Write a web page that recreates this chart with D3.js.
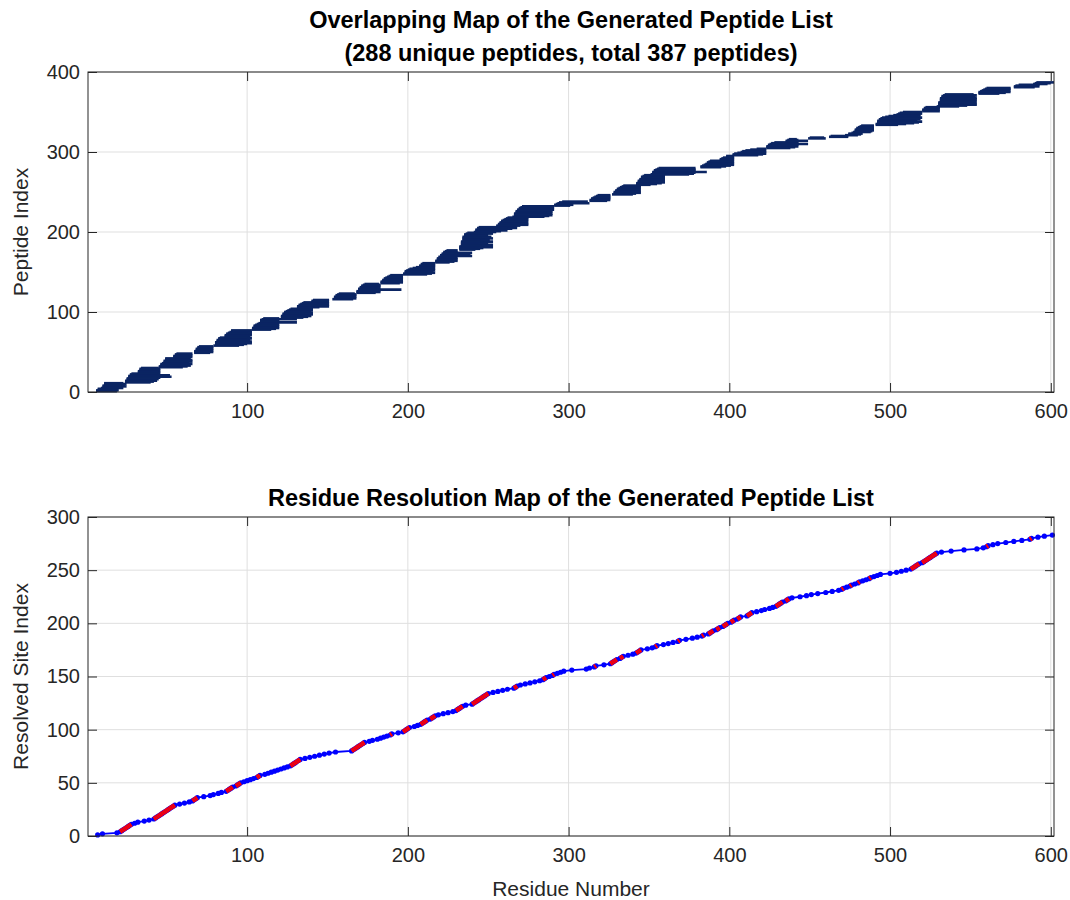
<!DOCTYPE html>
<html>
<head>
<meta charset="utf-8">
<script src="https://cdn.jsdelivr.net/npm/d3@7"></script>
<style>
  body { margin: 0; background: #fff; }
  svg text { font-family: "Liberation Sans", Arial, Helvetica, sans-serif; }
</style>
</head>
<body>
<svg id="fig" width="1070" height="900"></svg>
<script>
/*
 Peptide overlap map + residue resolution map
 */

////////////////////////////////////////////////DATA/////////////////

// start / end residue of every peptide, in index order (1..387)
let pepStart = [
  6,6,7,7, 9,10,10,10,11,11,11,
  24,24,24,25,25,25,26,26,26,27,27,28, 32,32,32,33,33,33,34,
  45,45,46,46,46,47, 48,48,48,49,49,49, 54,54,54,55,55,56,
  67,67,67,68,68,68,69,69,70, 79,80,80,80,80,81,81,81,82,82,83,
  86,86,86,87,87,88,89,90,90, 103,103,103,104,104,104,105,106,107,108,108,108,
  108,109,110, 121,121,121,122,122,122,123,123,124,125,126,127,
  131,131,131,132,132,133,134,135, 140,140,141, 153,154,154,154,155,155,156,157,
  168,168,168,169,169,169,170,170,171,171,172,173,
  183,183,183,184,184,185,185,186,187,188,189,
  197,197,198,198,198,199,200,201,203,205,207,207, 208,208,209,
  217,217,217,218,218,218,219,219,220,220,221,221,222,222,223,224,
  232,232,232,232,232,233,233,233,233,233,233,234,234,234,234,234,234,235,235,235,236,237,
  241,242,242,242,243,243,244, 255,255,256,256,257,257,258,258,259,260,261,262,
  265,266,266,266,266,267,267,267, 268,268,269,269,270,271, 291,291,292,293,294,296,
  313,313,314,314,315,316,317,318, 327,328,328,328,329,329,330,330,331,332,333,334,
  342,342,342,343,343,343,344,344,345,345,345,346,347, 351,352,352,352,353,353,354,355,356,
  382,382,383,384,385,386,386,387,388, 394,394,395,396,398,398,
  402,402,403,405,407,408,410,413,417, 423,423,423,424,424,425,426,428, 435,435,436,437,
  449,450,462,463, 472,474,474,476, 477,478,478,478,479,479,480,481,482,
  491,491,492,492,492,492,493,493,494,495,497,499,502,504, 505,506,508,520,520,520,521,521,522,
  529,530,530,530,530,530,531,531,531,531,531,532,532,532,533,534,
  555,555,555,556,557,558,559,560, 577,577,578,580,589,590,591
];
let pepEnd = [
  19,20,20,18, 23,22,25,24,22,25,23,
  40,42,44,41,45,43,46,53,44,52,45,46, 44,46,45,46,44,46,45,
  60,63,65,62,66,64, 64,66,65,66,63,65, 64,66,65,66,64,66,
  77,79,78,79,77,79,78,79,79, 95,98,100,103,101,103,99,102,100,103,101,
  100,102,103,101,103,102,103,101,103, 115,118,120,117,120,119,120,118,120,131,120,119,
  120,131,120, 135,138,140,137,141,139,141,136,140,141,139,141,
  141,145,151,148,151,146,151,149, 151,150,151, 166,168,167,168,166,168,168,167,
  180,183,182,183,196,183,182,183,181,183,183,182,
  195,197,196,197,195,197,196,197,197,196,197,
  212,215,217,214,216,217,215,217,216,217,216,217, 217,215,217,
  226,229,231,230,231,228,231,230,240,231,239,231,240,231,230,231,
  242,245,247,253,244,248,253,246,250,244,253,247,251,245,253,248,252,246,250,244,253,248,
  255,258,262,260,265,268,262, 268,270,275,272,275,270,274,275,271,275,273,275,
  285,288,290,287,290,289,290,286, 290,291,289,291,290,291, 301,303,301,313,302,312,
  324,326,325,326,326,325,326,326, 340,342,345,343,345,341,344,345,342,345,344,345,
  351,355,358,360,356,360,353,360,358,360,357,360,360, 375,378,379,386,377,379,379,378,379,
  395,398,401,403,400,403,399,403,402, 403,402,403,403,402,403,
  418,421,423,422,423,421,423,422,423, 438,441,443,442,443,449,443,441, 443,449,443,442,
  460,459,474,474, 480,482,483,482, 488,489,490,487,490,489,490,489,490,
  505,510,515,518,520,514,517,519,516,520,518,519,517,519, 520,518,520,531,530,531,529,531,531,
  543,548,554,550,554,546,552,554,549,554,551,554,548,553,554,552,
  568,572,575,574,575,573,575,575, 590,593,592,593,598,600,602
];

// residue number of each resolved site (site index 1..283)
let siteResidue = [
  7,10,19,21,22,23,24,25,26,27,
  28,30,32,36,39,42,43,44,45,46,
  47,48,49,50,51,52,53,54,55,58,
  61,64,66,67,68,69,73,77,79,82,
  84,87,88,89,90,91,93,94,95,96,
  98,100,102,104,106,107,108,111,113,115,
  117,119,121,123,125,127,128,129,130,131,
  132,133,136,139,142,145,148,151,155,165,
  166,167,168,169,170,171,172,173,176,178,
  181,183,185,187,189,190,194,197,198,199,
  200,201,204,206,208,209,210,211,212,214,
  215,216,217,219,222,225,228,230,231,232,
  233,234,236,240,241,242,243,244,245,246,
  247,248,249,250,253,256,259,262,266,267,
  268,270,273,276,279,282,284,285,286,288,
  290,291,293,295,297,302,311,313,316,317,
  322,326,327,328,329,330,332,333,334,337,
  340,342,343,344,345,349,352,354,355,359,
  362,365,368,369,373,377,380,383,384,387,
  388,389,390,392,393,394,396,397,398,399,
  401,402,403,405,406,407,411,412,413,414,
  417,420,422,425,427,429,430,431,432,433,
  435,436,437,439,444,448,451,455,460,464,
  468,470,471,473,475,476,478,480,481,483,
  485,487,488,490,492,494,500,504,507,510,
  513,514,515,516,517,518,520,521,522,523,
  524,525,526,527,528,529,532,538,546,554,
  558,560,561,564,567,572,577,582,587,588,
  592,596,601
];

let residueRange = [1, 602];
let xTicks = [100, 200, 300, 400, 500, 600];
let yTicksTop = [0, 100, 200, 300, 400];
let yTicksBot = [0, 50, 100, 150, 200, 250, 300];

////////////////////////////////////////////////SETUP/////////////////

let svg = d3.select('#fig');
let axisColor = '#262626';
let gridColor = '#dfdfdf';
let tickLen = 9;
let tickFont = '20px';
let labelFont = '21px';
let titleFont = '23.5px';

let left = 88, right = 1054;
let topBox = {top: 72, bottom: 392};
let botBox = {top: 517, bottom: 836};

let xTop = d3.scaleLinear().domain(residueRange).range([left, right]);
let yTop = d3.scaleLinear().domain([0, 400]).range([topBox.bottom, topBox.top]);
let xBot = d3.scaleLinear().domain(residueRange).range([left, right]);
let yBot = d3.scaleLinear().domain([0, 300]).range([botBox.bottom, botBox.top]);

// grid lines behind the data
function drawGrid(g, x, y, yTicks) {
  g.selectAll('line.gx')
    .data(xTicks)
    .enter()
    .append('line')
    .attr('x1', (d) => x(d)).attr('x2', (d) => x(d))
    .attr('y1', y.range()[1]).attr('y2', y.range()[0])
    .attr('stroke', gridColor);
  g.selectAll('line.gy')
    .data(yTicks)
    .enter()
    .append('line')
    .attr('y1', (d) => y(d)).attr('y2', (d) => y(d))
    .attr('x1', left).attr('x2', right)
    .attr('stroke', gridColor);
}

// frame, inward ticks on all four sides, labels left/bottom
function drawAxes(g, x, y, yTicks) {
  let xAxis = d3.axisBottom(x).tickValues(xTicks).tickSize(-tickLen).tickPadding(12);
  let yAxis = d3.axisLeft(y).tickValues(yTicks).tickSize(-tickLen).tickPadding(8);
  let xAxis2 = d3.axisTop(x).tickValues(xTicks).tickSize(-tickLen).tickFormat('');
  let yAxis2 = d3.axisRight(y).tickValues(yTicks).tickSize(-tickLen).tickFormat('');

  let ax = [
    g.append('g').attr('transform', `translate(0, ${y.range()[0]})`).call(xAxis),
    g.append('g').attr('transform', `translate(${left}, 0)`).call(yAxis),
    g.append('g').attr('transform', `translate(0, ${y.range()[1]})`).call(xAxis2),
    g.append('g').attr('transform', `translate(${right}, 0)`).call(yAxis2)
  ];
  ax.forEach((a) => {
    a.select('.domain').remove();
    a.selectAll('.tick line').attr('stroke', axisColor);
    a.selectAll('.tick text')
      .attr('fill', axisColor)
      .style('font-size', tickFont);
  });

  g.append('rect')
    .attr('x', left).attr('y', y.range()[1])
    .attr('width', right - left).attr('height', y.range()[0] - y.range()[1])
    .attr('fill', 'none')
    .attr('stroke', axisColor)
    .attr('stroke-width', 1);
}

function addTitle(g, y, txt) {
  g.append('text')
    .attr('x', (left + right) / 2).attr('y', y)
    .attr('text-anchor', 'middle')
    .attr('fill', '#000')
    .style('font-size', titleFont).style('font-weight', 'bold')
    .text(txt);
}

function addYLabel(g, box, txt) {
  g.append('text')
    .attr('transform', `translate(28, ${(box.top + box.bottom) / 2}) rotate(-90)`)
    .attr('text-anchor', 'middle')
    .attr('fill', axisColor)
    .style('font-size', labelFont)
    .text(txt);
}

////////////////////////////////////////////////TOP: OVERLAP MAP//////

let topG = svg.append('g');
let peptides = pepStart.map((s, i) => ({idx: i + 1, start: s, end: pepEnd[i]}));

drawGrid(topG.append('g'), xTop, yTop, yTicksTop);

topG.append('g')
  .selectAll('line')
  .data(peptides)
  .enter()
  .append('line')
  .attr('x1', (d) => xTop(d.start))
  .attr('x2', (d) => xTop(d.end))
  .attr('y1', (d) => yTop(d.idx))
  .attr('y2', (d) => yTop(d.idx))
  .attr('stroke', '#0b2563')
  .attr('stroke-width', 2.6);

drawAxes(topG, xTop, yTop, yTicksTop);

addTitle(topG, 28, 'Overlapping Map of the Generated Peptide List');
addTitle(topG, 61, '(288 unique peptides, total 387 peptides)');
addYLabel(topG, topBox, 'Peptide Index');

////////////////////////////////////////////////BOTTOM: RESOLUTION////

let botG = svg.append('g');
drawGrid(botG.append('g'), xBot, yBot, yTicksBot);

let sites = siteResidue.map((r, i) => ({res: r, idx: i + 1}));
let marks = botG.append('g');

let siteLine = d3.line()
  .x((d) => xBot(d.res))
  .y((d) => yBot(d.idx));

marks.append('path')
  .datum(sites)
  .attr('d', siteLine)
  .attr('fill', 'none')
  .attr('stroke', '#0000ff')
  .attr('stroke-width', 1.8);

marks.selectAll('circle')
  .data(sites)
  .enter()
  .append('circle')
  .attr('cx', (d) => xBot(d.res))
  .attr('cy', (d) => yBot(d.idx))
  .attr('r', 2.6)
  .attr('fill', '#0000ff');

// consecutive residues resolved one by one -> red
let singles = d3.pairs(sites).filter((p) => p[1].res - p[0].res == 1);
marks.selectAll('line.single')
  .data(singles)
  .enter()
  .append('line')
  .attr('class', 'single')
  .attr('x1', (d) => xBot(d[0].res))
  .attr('y1', (d) => yBot(d[0].idx))
  .attr('x2', (d) => xBot(d[1].res))
  .attr('y2', (d) => yBot(d[1].idx))
  .attr('stroke', '#ff0000')
  .attr('stroke-width', 4.6);

drawAxes(botG, xBot, yBot, yTicksBot);

addTitle(botG, 506, 'Residue Resolution Map of the Generated Peptide List');
addYLabel(botG, botBox, 'Resolved Site Index');

botG.append('text')
  .attr('x', (left + right) / 2).attr('y', 896)
  .attr('text-anchor', 'middle')
  .attr('fill', axisColor)
  .style('font-size', labelFont)
  .text('Residue Number');
</script>
</body>
</html>
